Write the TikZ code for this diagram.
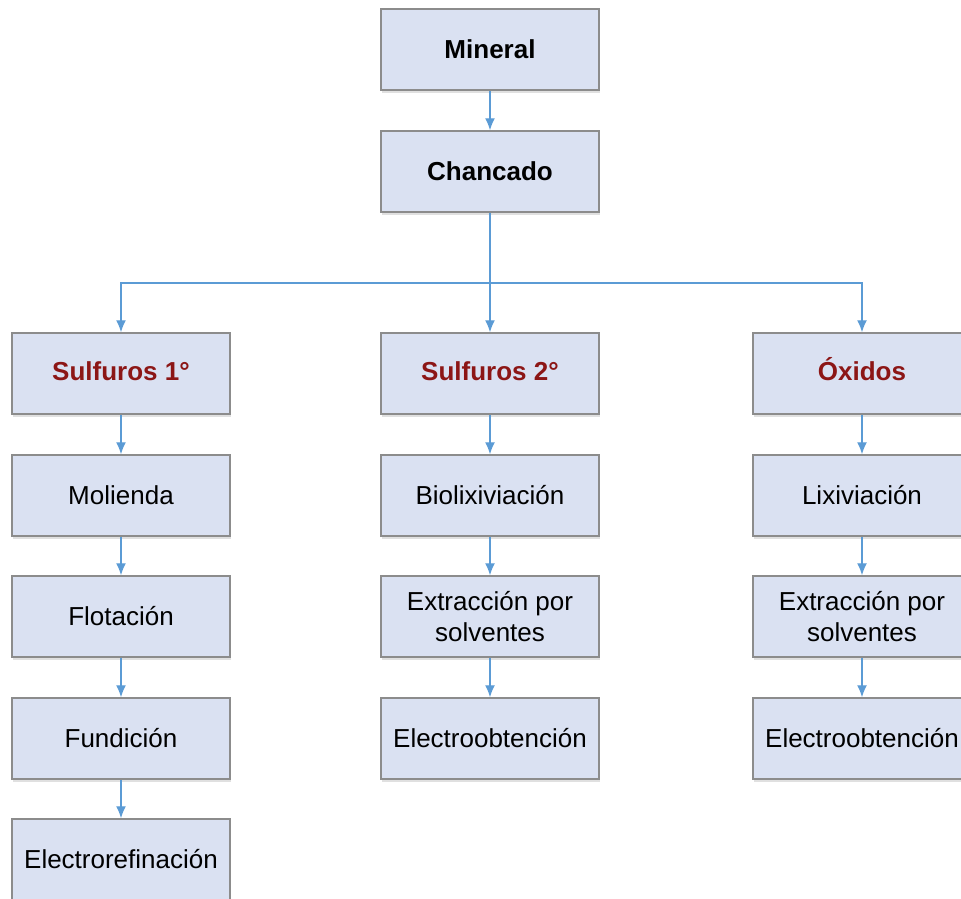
\documentclass[tikz,border=0pt]{standalone}
\usepackage{fontspec}
\setmainfont{Liberation Sans}
\usetikzlibrary{shadows,arrows.meta}
\definecolor{boxfill}{RGB}{218,225,242}
\definecolor{boxline}{RGB}{140,140,140}
\definecolor{linkblue}{RGB}{91,155,213}
\definecolor{darkred}{RGB}{140,22,22}
\begin{document}
\begin{tikzpicture}[x=1pt, y=-1pt,
  stepbox/.style={draw=boxline, line width=1.5pt, fill=boxfill, minimum width=218pt, minimum height=81pt,
    inner sep=0pt, align=center, font=\fontsize{26}{31}\selectfont,
    drop shadow={shadow xshift=1pt, shadow yshift=-3pt, opacity=0.2, fill=black!60}},
  headbox/.style={stepbox, font=\fontsize{26}{31}\selectfont\bfseries},
  redbox/.style={headbox, text=darkred, text height=19pt, text depth=6pt},
  link/.style={draw=linkblue, line width=1.4pt, -{Latex[length=12pt, width=10pt]}}]
  \useasboundingbox (0,0) rectangle (961,899);
  \clip (0,0) rectangle (961,899);
  % tronco
  \node[headbox] (mineral) at (490,49.5) {Mineral};
  \node[headbox] (chancado) at (490,171.5) {Chancado};
  % tipos de mineral
  \node[redbox] (sulf1) at (121,373.5) {Sulfuros 1°};
  \node[redbox] (sulf2) at (490,373.5) {Sulfuros 2°};
  \node[redbox] (oxidos) at (862,373.5) {Óxidos};
  % sulfuros 1
  \node[stepbox] (molienda) at (121,495.5) {Molienda};
  \node[stepbox] (flotacion) at (121,616.5) {Flotación};
  \node[stepbox] (fundicion) at (121,738.5) {Fundición};
  \node[stepbox] (refinacion) at (121,859.5) {Electrorefinación};
  % sulfuros 2
  \node[stepbox] (biolix) at (490,495.5) {Biolixiviación};
  \node[stepbox] (sx2) at (490,616.5) {Extracción por\\solventes};
  \node[stepbox] (ew2) at (490,738.5) {Electroobtención};
  % oxidos
  \node[stepbox] (lix) at (862,495.5) {Lixiviación};
  \node[stepbox] (sx3) at (862,616.5) {Extracción por\\solventes};
  \node[stepbox] (ew3) at (862,738.5) {Electroobtención};

  \coordinate (hub) at (490,283);
  \draw[link] (mineral) -- (chancado);
  \draw[link] (chancado) -- (sulf2);
  \draw[link] (hub) -| (sulf1);
  \draw[link] (hub) -| (oxidos);
  \draw[link] (sulf1) -- (molienda);
  \draw[link] (molienda) -- (flotacion);
  \draw[link] (flotacion) -- (fundicion);
  \draw[link] (fundicion) -- (refinacion);
  \draw[link] (sulf2) -- (biolix);
  \draw[link] (biolix) -- (sx2);
  \draw[link] (sx2) -- (ew2);
  \draw[link] (oxidos) -- (lix);
  \draw[link] (lix) -- (sx3);
  \draw[link] (sx3) -- (ew3);
\end{tikzpicture}
\end{document}
